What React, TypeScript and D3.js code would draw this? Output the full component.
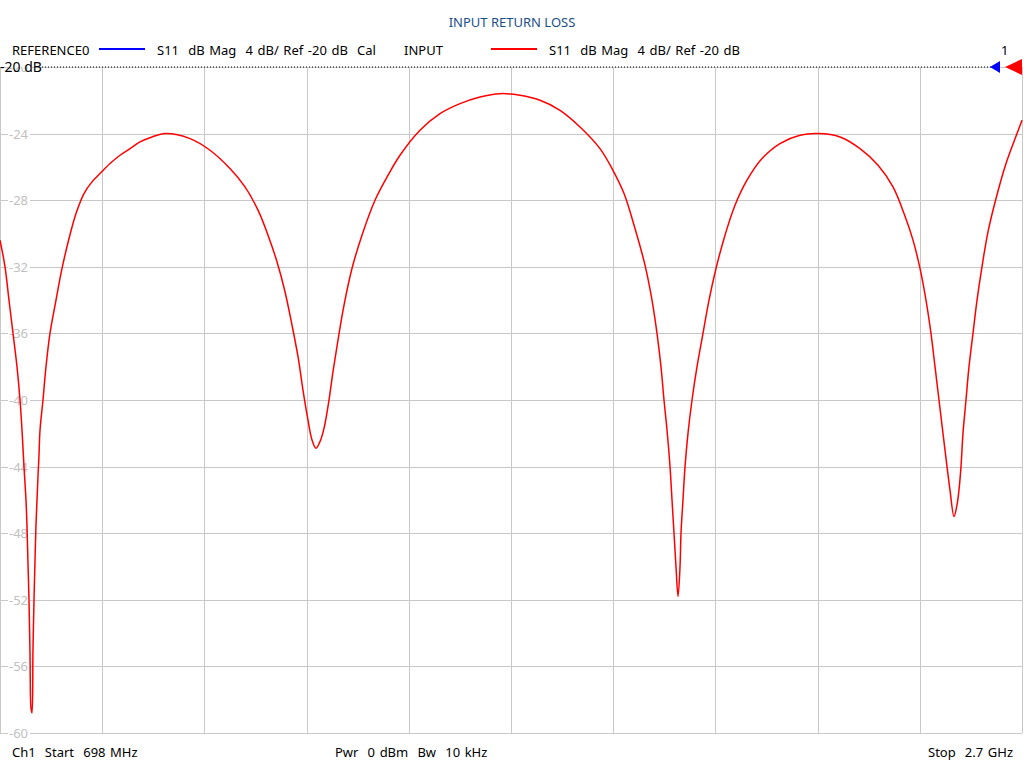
import React from 'react';
import { scaleLinear, line, curveCatmullRom, range } from 'd3';

// sweep: frequency (MHz) and S11 magnitude (dB)
const freqMHz = [
    698.0, 707.8, 715.6, 723.5, 731.3, 737.2, 741.1, 745.0, 748.9, 750.9, 752.8, 754.8, 756.8, 758.7,
    760.7, 762.6, 764.6, 766.6, 768.5, 770.5, 772.4, 774.4, 776.4, 782.2, 788.1, 795.9, 807.7, 819.5,
    833.2, 846.9, 862.5, 878.2, 893.9, 913.5, 933.1, 952.7, 972.2, 995.8, 1021.2,
    1070.2, 1109.4, 1148.5, 1177.9, 1203.4, 1223.0, 1240.6, 1256.3, 1270.0, 1281.8, 1291.5, 1301.3,
    1309.2, 1317.0, 1324.8, 1332.7, 1342.5, 1350.3, 1360.1, 1371.9, 1387.5, 1407.1, 1432.6, 1458.1,
    1481.6, 1520.7, 1559.9, 1599.1, 1638.3, 1677.4, 1716.6, 1755.8, 1795.0, 1834.2, 1873.3, 1896.9,
    1920.4, 1941.9, 1961.5, 1975.2, 1985.0, 1992.8, 1998.7, 2004.6, 2010.5, 2014.4, 2018.3, 2022.2,
    2026.2, 2030.1, 2032.0, 2035.9, 2039.9, 2045.7, 2053.6, 2063.4, 2075.1, 2086.9, 2100.6, 2118.2,
    2137.8, 2161.3, 2190.7, 2225.9, 2265.1, 2300.4, 2343.5, 2382.7, 2418.0, 2447.3, 2468.9, 2486.5,
    2500.2, 2511.9, 2521.7, 2529.6, 2537.4, 2545.2, 2553.1, 2558.9, 2566.8, 2572.7, 2576.6, 2580.5,
    2584.4, 2590.3, 2596.2, 2604.0, 2611.9, 2621.6, 2633.4, 2649.1, 2668.7, 2690.2, 2700.0
];
const s11dB = [
    -30.4, -32.0, -34.0, -36.0, -38.0, -40.0, -41.8, -44.0, -46.0, -47.6, -49.8, -52.0, -55.3, -58.5,
    -58.8, -55.0, -52.0, -49.6, -47.5, -46.0, -44.6, -43.3, -41.8, -40.0, -38.0, -36.0, -34.0, -32.1,
    -30.3, -28.8, -27.6, -26.9, -26.4, -25.8, -25.3, -24.9, -24.5, -24.2, -24.0,
    -24.3, -25.0, -26.1, -27.2, -28.6, -30.1, -31.7, -33.5, -35.5, -37.4, -39.4, -41.2,
    -42.4, -42.9, -42.5, -41.7, -40.0, -38.3, -36.4, -34.3, -32.1, -30.1, -28.0, -26.5,
    -25.3, -23.8, -22.8, -22.2, -21.8, -21.6, -21.7, -22.0, -22.6, -23.6, -24.9, -26.1,
    -27.6, -29.7, -31.9, -34.0, -36.0, -38.0, -40.0, -41.8, -44.0, -46.0, -48.0, -50.0,
    -51.8, -50.0, -48.0, -46.0, -44.0, -42.0, -40.0, -38.0, -36.0, -34.0, -32.1, -30.1,
    -28.3, -26.8, -25.5, -24.6, -24.1, -24.0, -24.2, -24.9, -25.9, -27.2, -28.8, -30.4,
    -32.1, -34.0, -36.0, -38.0, -40.0, -42.0, -44.0, -45.4, -47.0, -46.3, -45.4, -44.0,
    -42.0, -40.0, -38.0, -36.0, -34.0, -32.0, -29.9, -27.9, -25.8, -24.0, -23.2
];

const yTicks = [-20, -24, -28, -32, -36, -40, -44, -48, -52, -56, -60];
const xDivisions = range(0, 11);

const FONT = "'Noto Sans', 'Open Sans', sans-serif";
const W = 1024;
const H = 768;
const plot = { left: 0, right: 1022, top: 67, bottom: 733 };

// keep the analyzer's double spaces
const pre = (s: string) => s.replace(/ /g, '\u00a0');

export default function App() {
    const x = scaleLinear().domain([698, 2700]).range([plot.left, plot.right]);
    const y = scaleLinear().domain([-20, -60]).range([plot.top, plot.bottom]);
    const xGrid = scaleLinear().domain([0, 10]).range([plot.left, plot.right]);

    const pts = freqMHz.map((f, i) => [f, s11dB[i]] as [number, number]);
    const path = line<[number, number]>()
        .x(d => x(d[0]))
        .y(d => y(d[1]))
        .curve(curveCatmullRom.alpha(0.5))(pts);

    const refY = y(-20);

    return (
        <svg width={W} height={H} style={{ position: 'absolute', left: 0, top: 0, background: '#fff' }}
            fontFamily={FONT}>
            <rect width={W} height={H} fill="#fff" />

            {/* grid */}
            {xDivisions.map(i => (
                <line key={'v' + i} x1={Math.round(xGrid(i)) + 0.5} x2={Math.round(xGrid(i)) + 0.5}
                    y1={plot.top} y2={plot.bottom} stroke="#c8c8c8" strokeWidth={1} />
            ))}
            {yTicks.map(t => (
                <line key={'h' + t} x1={plot.left} x2={plot.right} y1={Math.round(y(t)) + 0.5} y2={Math.round(y(t)) + 0.5}
                    stroke="#c8c8c8" strokeWidth={1} />
            ))}

            {/* tick labels */}
            {yTicks.map(t => (
                <g key={'l' + t}>
                    <rect x={8} y={y(t) - 6} width={22} height={12} fill="#fff" />
                    <text x={9} y={y(t) + 5} fontSize={13} fill="#c0c0c0">{t}</text>
                </g>
            ))}

            {/* trace */}
            <path d={path ?? ''} fill="none" stroke="#ff0000" strokeWidth={1.5} />

            {/* reference line */}
            <rect x={0} y={55} width={44} height={12} fill="#fff" />
            <line x1={42} x2={992} y1={refY} y2={refY} stroke="#000" strokeWidth={1} strokeDasharray="1,2" />
            <text x={0} y={refY + 5} fontSize={14} fill="#000">-20 dB</text>
            <path d={`M${990},${refY} L${1000},${refY - 6} L${1000},${refY + 6} Z`} fill="#0000ff" />
            <path d={`M${1005},${refY} L${1022},${refY - 8} L${1022},${refY + 8} Z`} fill="#ff0000" />

            {/* header */}
            <text x={512} y={27} fontSize={13} fill="#1a4f8a" textAnchor="middle">INPUT RETURN LOSS</text>
            <g fontSize={13} fill="#000" style={{ wordSpacing: '1.2px' }}>
                <text x={12} y={55}>REFERENCE0</text>
                <line x1={99} x2={145} y1={49} y2={49} stroke="#0000ff" strokeWidth={2} />
                <text x={157} y={55}>{pre('S11  dB Mag  4 dB/ Ref -20 dB  Cal')}</text>
                <text x={404} y={55}>INPUT</text>
                <line x1={491} x2={537} y1={49} y2={49} stroke="#ff0000" strokeWidth={2} />
                <text x={549} y={55}>{pre('S11  dB Mag  4 dB/ Ref -20 dB')}</text>
                <text x={1001} y={55}>1</text>
            </g>

            {/* footer */}
            <g fontSize={13} fill="#000" style={{ wordSpacing: '1.2px' }}>
                <text x={12} y={757}>{pre('Ch1  Start  698 MHz')}</text>
                <text x={335} y={757}>{pre('Pwr  0 dBm  Bw  10 kHz')}</text>
                <text x={1013} y={757} textAnchor="end">{pre('Stop  2.7 GHz')}</text>
            </g>
        </svg>
    );
}
